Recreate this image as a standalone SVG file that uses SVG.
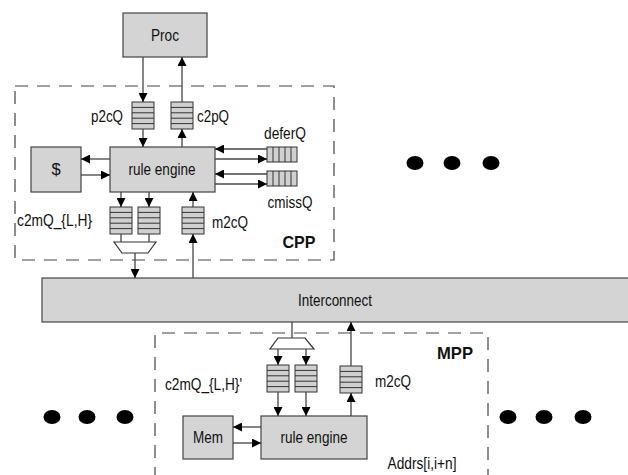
<svg xmlns="http://www.w3.org/2000/svg" width="628" height="475" viewBox="0 0 628 475">
<defs>
<style>
.box{fill:#d4d4d4;stroke:#444;stroke-width:1.2}
.q{fill:#d0d0d0;stroke:#333;stroke-width:1}
.ql{stroke:#333;stroke-width:1}
.dash{fill:none;stroke:#444;stroke-width:1.2;stroke-dasharray:13 9}
.ln{fill:none;stroke:#444;stroke-width:1.3}
.arr{fill:none;stroke:#444;stroke-width:1.3;marker-end:url(#ah)}
.mux{fill:#fff;stroke:#333;stroke-width:1.2}
text{font-family:"Liberation Sans",Arial,sans-serif;font-size:16.5px;fill:#111}
.b{font-weight:bold}
.dot{fill:#000}
</style>
<marker id="ah" viewBox="0 0 10 10" refX="10" refY="5" markerWidth="9" markerHeight="9" markerUnits="userSpaceOnUse" orient="auto">
<path d="M0,0 L10,5 L0,10 z" fill="#000"/>
</marker>
<g id="vq">
<rect class="q" x="0" y="0" width="22" height="27"/>
<line class="ql" x1="0" y1="5.4" x2="22" y2="5.4"/>
<line class="ql" x1="0" y1="10.8" x2="22" y2="10.8"/>
<line class="ql" x1="0" y1="16.2" x2="22" y2="16.2"/>
<line class="ql" x1="0" y1="21.6" x2="22" y2="21.6"/>
</g>
<g id="hq">
<rect class="q" x="0" y="0" width="30" height="15"/>
<line class="ql" x1="6" y1="0" x2="6" y2="15"/>
<line class="ql" x1="12" y1="0" x2="12" y2="15"/>
<line class="ql" x1="18" y1="0" x2="18" y2="15"/>
<line class="ql" x1="24" y1="0" x2="24" y2="15"/>
</g>
</defs>
<rect width="628" height="475" fill="#fff"/>

<g id="cpp-region">
<rect class="dash" x="15" y="86" width="319" height="174"/>
<text class="b" x="299" y="248" text-anchor="middle" textLength="33" lengthAdjust="spacingAndGlyphs">CPP</text>
</g>
<g id="mpp-region">
<path class="dash" d="M155,480 L155,333 L488,333 L488,480"/>
<text class="b" x="455" y="359" text-anchor="middle" textLength="36" lengthAdjust="spacingAndGlyphs">MPP</text>
</g>

<g id="proc">
<rect class="box" x="123" y="13" width="84" height="44"/>
<text x="165" y="41" text-anchor="middle" textLength="28" lengthAdjust="spacingAndGlyphs">Proc</text>
</g>
<g id="p2cQ">
<use href="#vq" x="132" y="102"/>
<text x="123" y="122" text-anchor="end" textLength="32" lengthAdjust="spacingAndGlyphs">p2cQ</text>
</g>
<g id="c2pQ">
<use href="#vq" x="171" y="102"/>
<text x="197" y="122" textLength="32" lengthAdjust="spacingAndGlyphs">c2pQ</text>
</g>
<g id="cache">
<rect class="box" x="31" y="147" width="50" height="45"/>
<text x="56" y="175" text-anchor="middle">$</text>
</g>
<g id="rule-engine-cpp">
<rect class="box" x="110" y="147" width="105" height="45"/>
<text x="162" y="175" text-anchor="middle" textLength="67" lengthAdjust="spacingAndGlyphs">rule engine</text>
</g>
<g id="deferQ">
<use href="#hq" x="267" y="147"/>
<text x="285" y="139" text-anchor="middle" textLength="42" lengthAdjust="spacingAndGlyphs">deferQ</text>
</g>
<g id="cmissQ">
<use href="#hq" x="267" y="171"/>
<text x="290" y="208" text-anchor="middle" textLength="45" lengthAdjust="spacingAndGlyphs">cmissQ</text>
</g>
<g id="c2mQ-cpp">
<use href="#vq" x="110" y="207"/>
<use href="#vq" x="138" y="207"/>
<text x="17" y="226" textLength="75" lengthAdjust="spacingAndGlyphs">c2mQ_{L,H}</text>
</g>
<g id="m2cQ-cpp">
<use href="#vq" x="182" y="207"/>
<text x="212" y="228" textLength="36" lengthAdjust="spacingAndGlyphs">m2cQ</text>
</g>
<g id="mux-cpp">
<polygon class="mux" points="114,242 156,242 148,253 122,253"/>
</g>

<g id="interconnect">
<rect class="box" x="42" y="278" width="600" height="44"/>
<text x="335" y="306" text-anchor="middle" textLength="74" lengthAdjust="spacingAndGlyphs">Interconnect</text>
</g>

<g id="mux-mpp">
<polygon class="mux" points="278,338 305,338 314,349 270,349"/>
</g>
<g id="c2mQ-mpp">
<use href="#vq" x="267" y="365"/>
<use href="#vq" x="295" y="365"/>
<text x="165" y="390" textLength="77" lengthAdjust="spacingAndGlyphs">c2mQ_{L,H}'</text>
</g>
<g id="m2cQ-mpp">
<use href="#vq" x="340" y="366"/>
<text x="375" y="387" textLength="36" lengthAdjust="spacingAndGlyphs">m2cQ</text>
</g>
<g id="mem">
<rect class="box" x="183" y="416" width="50" height="43"/>
<text x="208" y="443" text-anchor="middle" textLength="30" lengthAdjust="spacingAndGlyphs">Mem</text>
</g>
<g id="rule-engine-mpp">
<rect class="box" x="261" y="416" width="106" height="43"/>
<text x="314" y="443" text-anchor="middle" textLength="67" lengthAdjust="spacingAndGlyphs">rule engine</text>
</g>
<g id="addrs">
<text x="422" y="469" text-anchor="middle" textLength="69" lengthAdjust="spacingAndGlyphs">Addrs[i,i+n]</text>
</g>

<g id="dots">
<ellipse class="dot" cx="415" cy="163" rx="8.5" ry="7"/>
<ellipse class="dot" cx="452" cy="163" rx="8.5" ry="7"/>
<ellipse class="dot" cx="491" cy="163" rx="8.5" ry="7"/>
<ellipse class="dot" cx="52" cy="417" rx="8.5" ry="7"/>
<ellipse class="dot" cx="87" cy="417" rx="8.5" ry="7"/>
<ellipse class="dot" cx="125" cy="417" rx="8.5" ry="7"/>
<ellipse class="dot" cx="508" cy="417" rx="8.5" ry="7"/>
<ellipse class="dot" cx="544" cy="417" rx="8.5" ry="7"/>
<ellipse class="dot" cx="583" cy="417" rx="8.5" ry="7"/>
</g>

<g id="connectors">
<line class="arr" x1="143" y1="57" x2="143" y2="102"/>
<line class="arr" x1="143" y1="129" x2="143" y2="147"/>
<line class="arr" x1="182" y1="147" x2="182" y2="129"/>
<line class="arr" x1="182" y1="102" x2="182" y2="57"/>
<line class="arr" x1="110" y1="159" x2="81" y2="159"/>
<line class="arr" x1="81" y1="175" x2="110" y2="175"/>
<line class="arr" x1="267" y1="149" x2="215" y2="149"/>
<line class="arr" x1="215" y1="159" x2="267" y2="159"/>
<line class="arr" x1="267" y1="174" x2="215" y2="174"/>
<line class="arr" x1="215" y1="184" x2="267" y2="184"/>
<line class="arr" x1="121" y1="192" x2="121" y2="207"/>
<line class="arr" x1="149" y1="192" x2="149" y2="207"/>
<line class="ln" x1="121" y1="234" x2="121" y2="242"/>
<line class="ln" x1="149" y1="234" x2="149" y2="242"/>
<line class="arr" x1="135" y1="253" x2="135" y2="278"/>
<line class="arr" x1="193" y1="278" x2="193" y2="234"/>
<line class="arr" x1="193" y1="207" x2="193" y2="192"/>
<line class="ln" x1="292" y1="322" x2="292" y2="338"/>
<line class="arr" x1="278" y1="349" x2="278" y2="365"/>
<line class="arr" x1="306" y1="349" x2="306" y2="365"/>
<line class="arr" x1="278" y1="392" x2="278" y2="416"/>
<line class="arr" x1="306" y1="392" x2="306" y2="416"/>
<line class="arr" x1="351" y1="416" x2="351" y2="393"/>
<line class="arr" x1="351" y1="366" x2="351" y2="322"/>
<line class="arr" x1="261" y1="427" x2="233" y2="427"/>
<line class="arr" x1="233" y1="443" x2="261" y2="443"/>
</g>
</svg>
